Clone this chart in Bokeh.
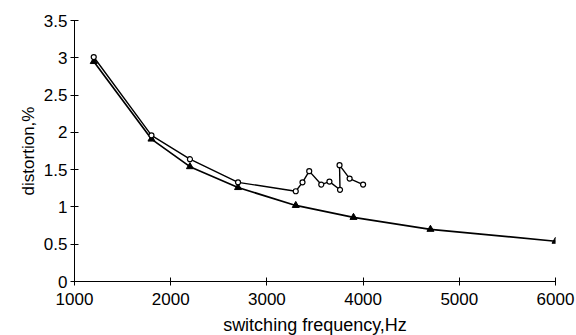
from bokeh.plotting import figure
from bokeh.models import Range1d, FixedTicker
from bokeh.embed import file_html
from bokeh.resources import INLINE

# open-circle series
freq_a = [1200, 1800, 2200, 2700, 3300, 3370, 3440, 3565, 3650, 3760, 3755, 3860, 4000]
dist_a = [3.01, 1.96, 1.64, 1.33, 1.21, 1.33, 1.48, 1.30, 1.34, 1.23, 1.56, 1.38, 1.30]

# filled-triangle series
freq_b = [1200, 1800, 2200, 2700, 3300, 3900, 4700, 6000]
dist_b = [2.95, 1.91, 1.54, 1.26, 1.02, 0.86, 0.70, 0.54]

x_ticks = [1000, 2000, 3000, 4000, 5000, 6000]
y_ticks = [0, 0.5, 1, 1.5, 2, 2.5, 3, 3.5]

FONT = "Liberation Sans"

p = figure(width=576, height=335, output_backend="svg", toolbar_location=None,
           x_range=Range1d(1000, 6000), y_range=Range1d(0, 3.5),
           min_border_left=74, min_border_right=21, min_border_top=20, min_border_bottom=54)
p.frame_width = 481
p.frame_height = 261
p.outline_line_color = None
p.grid.visible = False

p.line(freq_b, dist_b, line_color="black", line_width=1.7)
p.scatter(freq_b, dist_b, marker="triangle", size=7, fill_color="black", line_color="black")

p.line(freq_a, dist_a, line_color="black", line_width=1.4)
p.scatter(freq_a, dist_a, marker="circle", size=5, fill_color="white", line_color="black", line_width=1.2)

for ax in (p.xaxis[0], p.yaxis[0]):
    ax.axis_line_color = "black"
    ax.major_tick_line_color = "black"
    ax.major_tick_in = 4
    ax.major_tick_out = 4
    ax.minor_tick_line_color = None
    ax.major_label_text_font = FONT
    ax.major_label_text_font_size = "17px"
    ax.major_label_text_color = "black"
    ax.axis_label_text_font = FONT
    ax.axis_label_text_font_style = "normal"
    ax.axis_label_text_color = "black"

p.xaxis.axis_label_text_font_size = "18px"
p.yaxis.axis_label_text_font_size = "17px"
p.xaxis.ticker = FixedTicker(ticks=x_ticks)
p.yaxis.ticker = FixedTicker(ticks=y_ticks)
p.xaxis.major_label_overrides = {t: str(t) for t in x_ticks}
p.yaxis.major_label_overrides = {0: "0", 0.5: "0.5", 1: "1", 1.5: "1.5", 2: "2", 2.5: "2.5", 3: "3", 3.5: "3.5"}
p.xaxis.axis_label = "switching frequency,Hz"
p.yaxis.axis_label = "distortion,%"
p.xaxis.major_label_standoff = 7
p.yaxis.major_label_standoff = 3
p.xaxis.axis_label_standoff = 7
p.yaxis.axis_label_standoff = 3

open("out.html", "w").write(file_html(p, INLINE))
